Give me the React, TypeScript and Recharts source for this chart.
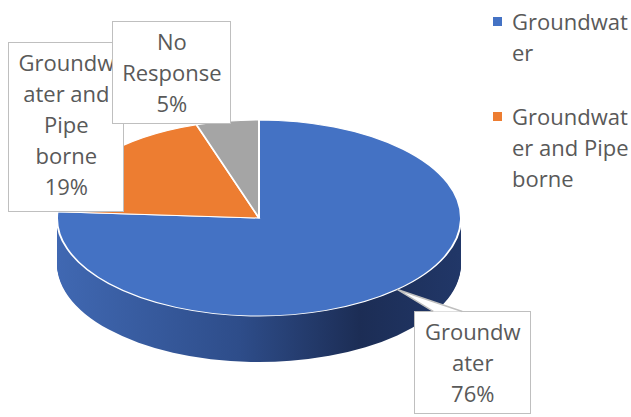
import React from 'react';
import { PieChart, Pie, Cell, Legend } from 'recharts';

// chart data
const CATEGORIES = ['Groundwater', 'Groundwater and Pipe borne', 'No Response'];
const SHARES = [76, 19, 5];
const COLORS = ['#4472C4', '#ED7D31', '#A5A5A5'];
const SIDE_COLORS = ['url(#sideBlue)', '#9B511F', '#6B6B6B'];

const data = CATEGORIES.map((name, i) => ({ name, value: SHARES[i] }));

// geometry of the tilted pie (top face is an ellipse, side is DEPTH px tall)
const W = 631;
const H = 417;
const CX = 259;
const CY = 218;
const RX = 202;
const RY = 98;
const DEPTH = 46;
const K = RY / RX;
const CY_PRE = CY / K;
const DEPTH_PRE = DEPTH / K;
const PRE_H = Math.ceil((CY + RY + DEPTH + 6) / K);
const SIDE_LAYERS = Array.from({ length: Math.ceil(DEPTH_PRE / 2) }, (_, i) => DEPTH_PRE - i * 2).filter((d) => d > 0);

const FONT = "'Open Sans', sans-serif";
const TEXT = '#595959';
const BORDER = '#BFBFBF';

// callout boxes, placed relative to each slice's anchor on the rim
const LABEL_LAYOUT: any[] = [
    { dx: 17, dy: 22, w: 117, h: 103, wedge: { side: 'top', from: 19, to: 48 } },
    { dx: -91, dy: -116, w: 116, h: 170 },
    { dx: -115, dy: -100, w: 119, h: 103 },
];

function CalloutLabel(props: any) {
    const { cx, cy, midAngle, index, name, percent } = props;
    const rad = (midAngle * Math.PI) / 180;
    const ax = cx + RX * Math.cos(rad);
    const ay = cy - RY * Math.sin(rad);
    const box = LABEL_LAYOUT[index];
    const x = ax + box.dx;
    const y = ay + box.dy;

    let wedge = null;
    if (box.wedge) {
        const by = box.wedge.side === 'top' ? y : y + box.h;
        const pts = `${x + box.wedge.from},${by} ${ax},${ay} ${x + box.wedge.to},${by}`;
        wedge = (
            <g>
                <polygon points={pts} fill="#fff" />
                <polyline points={pts} fill="none" stroke={BORDER} strokeWidth={1.5} />
            </g>
        );
    }

    return (
        <g>
            <foreignObject x={x} y={y} width={box.w} height={box.h}>
                <div
                    style={{
                        width: box.w,
                        height: box.h,
                        boxSizing: 'border-box',
                        border: `1.5px solid ${BORDER}`,
                        background: '#fff',
                        padding: '4px 6px',
                        fontFamily: FONT,
                        fontSize: 22,
                        lineHeight: '31px',
                        color: TEXT,
                        textAlign: 'center',
                        overflowWrap: 'anywhere',
                    }}
                >
                    <div>{name}</div>
                    <div>{Math.round(percent * 100)}%</div>
                </div>
            </foreignObject>
            {wedge}
        </g>
    );
}

function LegendContent(props: any) {
    // the original legend box is too short, only the first two entries show
    const items = (props.payload || []).slice(0, 2);
    return (
        <div style={{ fontFamily: FONT, fontSize: 22, lineHeight: '31px', color: TEXT }}>
            {items.map((item: any, i: number) => (
                <div key={i} style={{ display: 'flex', alignItems: 'flex-start', marginBottom: 33 }}>
                    <span style={{ width: 9, height: 9, background: COLORS[i], marginTop: 11, marginRight: 10, flex: 'none' }} />
                    <span style={{ width: 121, overflowWrap: 'anywhere' }}>{item.value}</span>
                </div>
            ))}
        </div>
    );
}

export default function App() {
    return (
        <div style={{ position: 'absolute', left: 0, top: 0, width: W, height: H, background: '#fff', overflow: 'hidden' }}>
            <div style={{ position: 'absolute', left: 0, top: 0, transform: `scaleY(${K})`, transformOrigin: '0 0' }}>
                <PieChart width={W} height={PRE_H} margin={{ top: 0, right: 0, bottom: 0, left: 0 }}>
                    <defs>
                        <linearGradient id="sideBlue" x1={CX - RX} y1={0} x2={CX + RX} y2={0} gradientUnits="userSpaceOnUse">
                            <stop offset="0%" stopColor="#4068B2" />
                            <stop offset="45%" stopColor="#2E4D8A" />
                            <stop offset="75%" stopColor="#1C2D55" />
                            <stop offset="100%" stopColor="#213768" />
                        </linearGradient>
                    </defs>
                    {SIDE_LAYERS.map((d) => (
                        <Pie
                            key={d}
                            data={data}
                            dataKey="value"
                            nameKey="name"
                            cx={CX}
                            cy={CY_PRE + d}
                            outerRadius={RX}
                            startAngle={90}
                            endAngle={-270}
                            stroke="none"
                            legendType="none"
                            isAnimationActive={false}
                        >
                            {data.map((_, i) => (
                                <Cell key={i} fill={SIDE_COLORS[i]} />
                            ))}
                        </Pie>
                    ))}
                    <Pie
                        data={data}
                        dataKey="value"
                        nameKey="name"
                        cx={CX}
                        cy={CY_PRE}
                        outerRadius={RX}
                        startAngle={90}
                        endAngle={-270}
                        stroke="#fff"
                        strokeWidth={2}
                        isAnimationActive={false}
                    >
                        {data.map((_, i) => (
                            <Cell key={i} fill={COLORS[i]} />
                        ))}
                    </Pie>
                </PieChart>
            </div>
            <div style={{ position: 'absolute', left: 0, top: 0 }}>
                <PieChart width={W} height={H} margin={{ top: 0, right: 0, bottom: 0, left: 0 }}>
                    <Pie
                        data={data}
                        dataKey="value"
                        nameKey="name"
                        cx={CX}
                        cy={CY}
                        outerRadius={RX}
                        startAngle={90}
                        endAngle={-270}
                        stroke="none"
                        label={CalloutLabel}
                        labelLine={false}
                        isAnimationActive={false}
                    >
                        {data.map((_, i) => (
                            <Cell key={i} fill={COLORS[i]} fillOpacity={0} />
                        ))}
                    </Pie>
                    <Legend
                        layout="vertical"
                        align="right"
                        verticalAlign="top"
                        wrapperStyle={{ left: 493, top: 6, width: 140 }}
                        content={LegendContent}
                    />
                </PieChart>
            </div>
        </div>
    );
}
